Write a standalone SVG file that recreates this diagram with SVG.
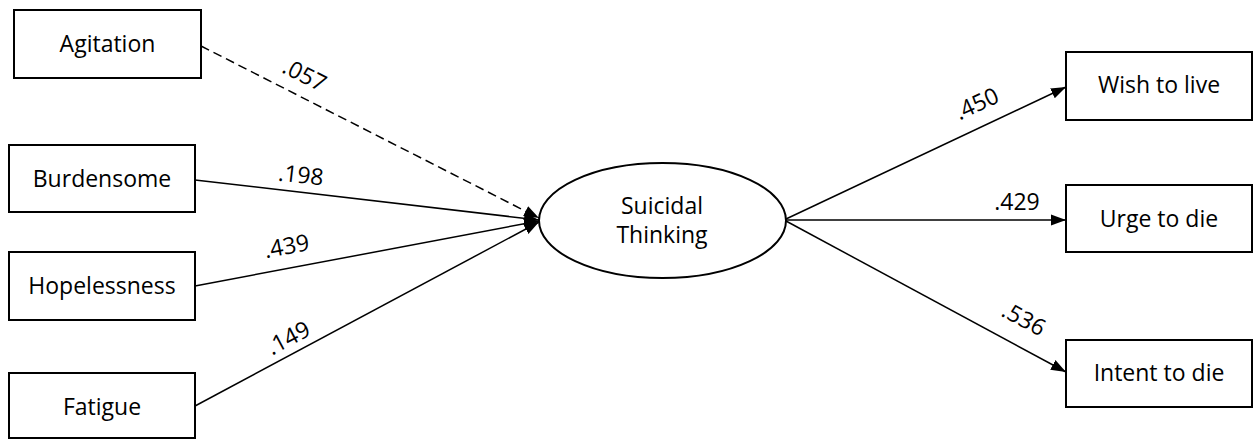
<svg xmlns="http://www.w3.org/2000/svg" width="1256" height="441" viewBox="0 0 1256 441">
<style>
.box{fill:#fff;stroke:#000;stroke-width:2}
.t{font-family:"Open Sans","Liberation Sans",sans-serif;font-size:23px;fill:#000;text-anchor:middle}
.c{stroke:#000;stroke-width:1.5;fill:none}
.d{stroke-dasharray:9,5}
</style>
<defs>
<marker id="ah" markerUnits="userSpaceOnUse" markerWidth="16" markerHeight="14" viewBox="0 0 16 14" refX="15" refY="7" orient="auto">
<path d="M0,1.5 L15,7 L0,12.5 Z" fill="#000"/>
</marker>
</defs>
<g id="connectors">
<line class="c d" x1="201" y1="46" x2="539" y2="218" marker-end="url(#ah)"/>
<line class="c" x1="195" y1="180" x2="539" y2="220" marker-end="url(#ah)"/>
<line class="c" x1="195" y1="286" x2="539" y2="221" marker-end="url(#ah)"/>
<line class="c" x1="195" y1="406" x2="539" y2="222" marker-end="url(#ah)"/>
<line class="c" x1="786" y1="219" x2="1066" y2="87" marker-end="url(#ah)"/>
<line class="c" x1="786" y1="220" x2="1066" y2="220" marker-end="url(#ah)"/>
<line class="c" x1="786" y1="221" x2="1066" y2="372" marker-end="url(#ah)"/>
<text class="t" transform="translate(301,82) rotate(27)">.057</text>
<text class="t" transform="translate(300,183) rotate(6.6)">.198</text>
<text class="t" transform="translate(288,254) rotate(-10.5)">.439</text>
<text class="t" transform="translate(292,345) rotate(-28)">.149</text>
<text class="t" transform="translate(980,111) rotate(-25)">.450</text>
<text class="t" transform="translate(1017,210)">.429</text>
<text class="t" transform="translate(1020,326) rotate(28.5)">.536</text>
</g>
<g id="agitation"><rect class="box" x="14" y="10" width="187" height="68"/><text class="t" x="107.5" y="52">Agitation</text></g>
<g id="burdensome"><rect class="box" x="9" y="145" width="186" height="67"/><text class="t" x="102" y="187">Burdensome</text></g>
<g id="hopelessness"><rect class="box" x="9" y="252" width="186" height="68"/><text class="t" x="102" y="294">Hopelessness</text></g>
<g id="fatigue"><rect class="box" x="9" y="373" width="186" height="65"/><text class="t" x="102" y="415">Fatigue</text></g>
<g id="suicidal-thinking"><ellipse class="box" cx="662.5" cy="220.5" rx="123.5" ry="57.5"/><text class="t" x="662" y="214">Suicidal</text><text class="t" x="662" y="243">Thinking</text></g>
<g id="wish-to-live"><rect class="box" x="1066" y="52" width="186" height="68"/><text class="t" x="1159" y="93">Wish to live</text></g>
<g id="urge-to-die"><rect class="box" x="1066" y="185" width="186" height="67"/><text class="t" x="1159" y="227">Urge to die</text></g>
<g id="intent-to-die"><rect class="box" x="1066" y="340" width="186" height="67"/><text class="t" x="1159" y="381">Intent to die</text></g>
</svg>
